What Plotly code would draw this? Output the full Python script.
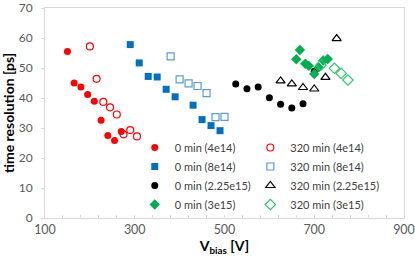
import plotly.graph_objects as go

# Data
v_0_4e14 = [150, 165, 180, 195, 210, 225, 240, 255, 270]
t_0_4e14 = [55.5, 45.0, 43.7, 41.2, 38.9, 32.6, 27.5, 25.8, 28.8]
v_320_4e14 = [200, 215, 230, 245, 260, 275, 290, 305]
t_320_4e14 = [57.2, 46.4, 38.7, 36.9, 34.5, 27.9, 29.3, 27.2]

v_0_8e14 = [290, 310, 330, 350, 370, 390, 430, 450, 470, 490]
t_0_8e14 = [57.8, 51.7, 47.2, 47.0, 42.9, 40.4, 37.6, 32.8, 30.8, 29.1]
v_320_8e14 = [380, 400, 420, 440, 460, 480, 500]
t_320_8e14 = [53.9, 46.2, 44.9, 44.0, 41.6, 33.6, 33.7]

v_0_225e15 = [525, 550, 575, 600, 625, 650, 675, 700]
t_0_225e15 = [44.7, 43.1, 43.7, 40.1, 37.9, 36.7, 38.1, 48.9]
v_320_225e15 = [625, 650, 675, 700, 725, 750]
t_320_225e15 = [45.7, 44.7, 43.5, 43.0, 46.9, 59.8]

v_0_3e15 = [660, 668, 680, 688, 700, 710, 720, 730]
t_0_3e15 = [52.9, 56.0, 51.4, 50.7, 48.0, 50.2, 52.5, 53.0]
v_320_3e15 = [715, 745, 760, 775]
t_320_3e15 = [51.0, 49.9, 48.2, 46.0]

series = [
    ("0 min (4e14)", v_0_4e14, t_0_4e14, "circle", "#FF0000", "legend"),
    ("320 min (4e14)", v_320_4e14, t_320_4e14, "circle-open", "#FF0000", "legend2"),
    ("0 min (8e14)", v_0_8e14, t_0_8e14, "square", "#0070C0", "legend"),
    ("320 min (8e14)", v_320_8e14, t_320_8e14, "square-open", "#5B9BD5", "legend2"),
    ("0 min (2.25e15)", v_0_225e15, t_0_225e15, "circle", "#000000", "legend"),
    ("320 min (2.25e15)", v_320_225e15, t_320_225e15, "triangle-up-open", "#000000", "legend2"),
    ("0 min (3e15)", v_0_3e15, t_0_3e15, "diamond", "#00B050", "legend"),
    ("320 min (3e15)", v_320_3e15, t_320_3e15, "diamond-open", "#33C46A", "legend2"),
]

fig = go.Figure()
for name, xs, ys, sym, col, lg in series:
    size = 7
    if sym.startswith("triangle"):
        size = 8
    if sym.startswith("diamond"):
        size = 8
    fig.add_trace(go.Scatter(
        x=xs, y=ys, mode="markers", name=name, legend=lg,
        marker=dict(symbol=sym, size=size, color=col,
                    line=dict(color=col, width=1.2 if "open" in sym else 0)),
    ))

font_family = "Lato, 'Liberation Sans', sans-serif"
legend_common = dict(yanchor="middle", bgcolor="rgba(0,0,0,0)",
                     font=dict(size=11, color="#404040"),
                     itemwidth=30, tracegroupgap=0, borderwidth=0)
fig.update_layout(
    width=415, height=259,
    margin=dict(l=45, r=11, t=8, b=41),
    paper_bgcolor="white", plot_bgcolor="white",
    font=dict(family=font_family, size=12, color="#595959"),
    legend=dict(x=0.25, y=0.2, xanchor="left", **legend_common),
    legend2=dict(x=0.572, y=0.2, xanchor="left", **legend_common),
    xaxis=dict(
        range=[100, 900], dtick=200, tick0=100,
        showgrid=False, zeroline=False, automargin=False,
        showline=True, linecolor="#D9D9D9", linewidth=1, mirror=True,
        ticks="inside", ticklen=3, tickcolor="#D9D9D9",
        minor=dict(dtick=40, tick0=100, ticks="inside", ticklen=3, tickcolor="#D9D9D9"),
        tickfont=dict(size=12.5, color="#595959"),
        ticklabeloverflow="allow",
        title=dict(text="<b>V<sub>bias</sub> [V]</b>", font=dict(size=14, color="#000000"), standoff=2),
    ),
    yaxis=dict(
        range=[0, 70], dtick=10,
        showgrid=False, zeroline=False, automargin=False,
        showline=True, linecolor="#D9D9D9", linewidth=1, mirror=True,
        ticks="outside", ticklen=3, tickcolor="#D9D9D9",
        tickfont=dict(size=12, color="#595959"),
        ticklabeloverflow="allow", ticklabelstandoff=6,
        title=dict(text="<b>time resolution [ps]</b>", font=dict(size=14, color="#000000"), standoff=4),
    ),
)

fig.write_html("out.html", config={"displayModeBar": False},
               post_script="document.body.style.margin='0px';")
